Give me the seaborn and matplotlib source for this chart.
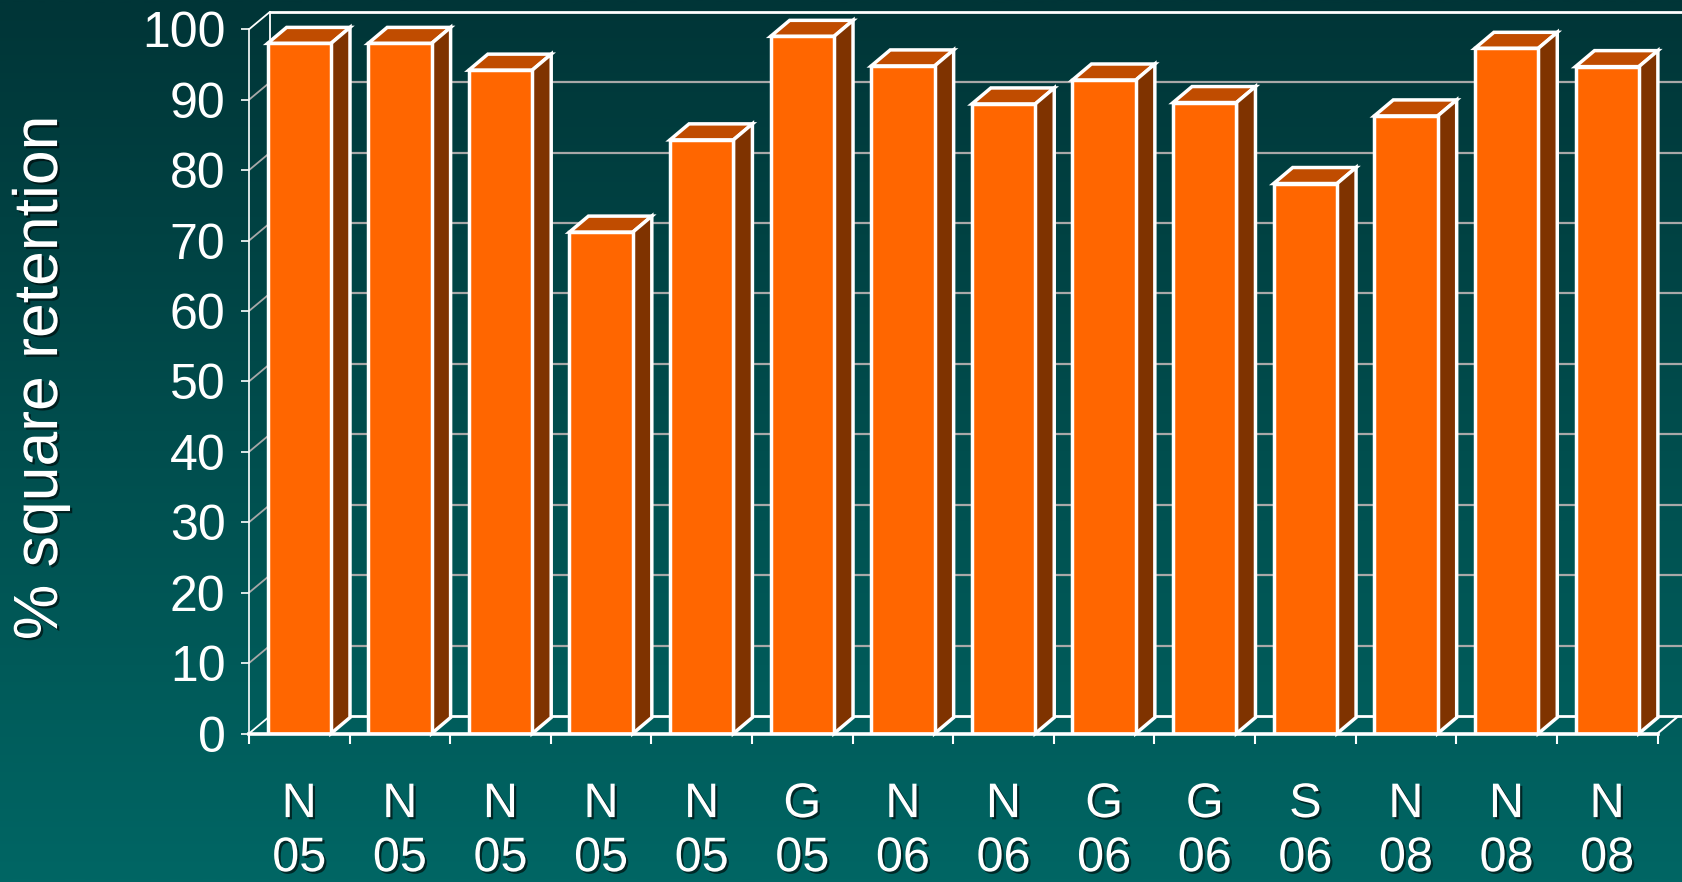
import numpy as np
import pandas as pd
import matplotlib
matplotlib.use("Agg")
import matplotlib.pyplot as plt
import matplotlib.patheffects as pe
from matplotlib.patches import Polygon
from matplotlib.lines import Line2D
from matplotlib.colors import LinearSegmentedColormap
import seaborn as sns

# ---- data -------------------------------------------------------------
sites = ["N", "N", "N", "N", "N", "G", "N", "N", "G", "G", "S", "N", "N", "N"]
years = ["05", "05", "05", "05", "05", "05", "06", "06", "06", "06", "06", "08", "08", "08"]
retention = [98.0, 98.0, 94.2, 71.2, 84.3, 99.0, 94.8, 89.4, 92.8, 89.6, 78.1, 87.7, 97.3, 94.7]
y_ticks = [0, 10, 20, 30, 40, 50, 60, 70, 80, 90, 100]
y_label = "% square retention"

# ---- style ------------------------------------------------------------
FRONT = "#FF6600"
TOP = "#C04C00"
SIDE = "#7F3300"
BG_TOP = "#003537"
BG_BOTTOM = "#006664"
GRID = "#A8A8A8"
EDGE = "white"

sns.set_style("white")
plt.rcParams["font.family"] = ["Liberation Sans", "DejaVu Sans"]

W, H, DPI = 1682, 882, 100
fig = plt.figure(figsize=(W / DPI, H / DPI), dpi=DPI)

# vertical gradient backdrop
bg = fig.add_axes([0, 0, 1, 1], zorder=-10)
cmap = LinearSegmentedColormap.from_list("backdrop", [BG_TOP, BG_BOTTOM])
bg.imshow(np.linspace(0, 1, 512).reshape(-1, 1), aspect="auto", cmap=cmap,
          extent=[0, 1, 0, 1], origin="upper")
bg.set_axis_off()

# front plane of the 3-D chart
left, right, top, bottom = 249, 1657.5, 29.3, 733.5
ax = fig.add_axes([left / W, 1 - bottom / H, (right - left) / W, (bottom - top) / H])
ax.patch.set_alpha(0)

df = pd.DataFrame({"bar": range(len(retention)), "retention": retention})
sns.barplot(data=df, x="bar", y="retention", color=FRONT, saturation=1,
            width=0.63, edgecolor=EDGE, linewidth=2.5, ax=ax, zorder=5)

ax.set_xlim(-0.5, len(retention) - 0.5)
ax.set_ylim(0, 100)

# depth offsets (pixels) converted to data units
p0 = ax.transData.transform((0, 0))
p1 = ax.transData.transform((1, 1))
sx, sy = p1[0] - p0[0], p1[1] - p0[1]
bdx, bdy = 19 / sx, 16 / sy      # bar depth
wdx, wdy = 21 / sx, 17.5 / sy    # wall depth

x_lo, x_hi = ax.get_xlim()

# side wall, back wall and floor
for v in y_ticks:
    c = EDGE if v in (0, 100) else GRID
    ax.add_line(Line2D([x_lo, x_lo + wdx], [v, v + wdy], color=c, lw=1.3,
                       zorder=1, clip_on=False))
    ax.add_line(Line2D([x_lo + wdx, x_hi + 3 * wdx], [v + wdy, v + wdy], color=c,
                       lw=2.0 if v in (0, 100) else 1.6, zorder=1, clip_on=False))
ax.add_line(Line2D([x_lo + wdx, x_lo + wdx], [wdy, 100 + wdy], color=EDGE, lw=1.3,
                   zorder=1, clip_on=False))
ax.add_line(Line2D([x_hi, x_hi + wdx], [0, wdy], color=EDGE, lw=1.5,
                   zorder=1, clip_on=False))

# top and side faces of each bar
for p in ax.patches:
    x0, w, h = p.get_x(), p.get_width(), p.get_height()
    top_face = [(x0, h), (x0 + w, h), (x0 + w + bdx, h + bdy), (x0 + bdx, h + bdy)]
    side_face = [(x0 + w, 0), (x0 + w + bdx, bdy), (x0 + w + bdx, h + bdy), (x0 + w, h)]
    for verts, fc in ((top_face, TOP), (side_face, SIDE)):
        ax.add_patch(Polygon(verts, closed=True, facecolor=fc, edgecolor=EDGE,
                             linewidth=2.5, joinstyle="miter", zorder=4, clip_on=False))

# axes lines and ticks
for s in ("top", "right"):
    ax.spines[s].set_visible(False)
ax.spines["left"].set_color(EDGE)
ax.spines["left"].set_linewidth(1.2)
ax.spines["bottom"].set_color(EDGE)
ax.spines["bottom"].set_linewidth(2.6)
ax.spines["bottom"].set_zorder(6)

ax.set_yticks(y_ticks)
ax.tick_params(axis="y", which="major", direction="out", length=6, width=1.2,
               color=EDGE, labelcolor=EDGE, labelsize=36, pad=11, left=True)

ax.set_xticks(range(len(retention)))
ax.set_xticklabels([f"{s}\n{y}" for s, y in zip(sites, years)])
ax.set_xticks(np.arange(x_lo, x_hi + 0.01, 1.0), minor=True)
ax.tick_params(axis="x", which="major", length=0, labelcolor=EDGE, labelsize=35, pad=35)
ax.tick_params(axis="x", which="minor", direction="out", length=7, width=1.5,
               color=EDGE, bottom=True)
shadow = [pe.withSimplePatchShadow(offset=(1.6, -1.6), shadow_rgbFace="black", alpha=0.6)]
for t in ax.get_xticklabels():
    t.set_linespacing(1.26)
    t.set_path_effects(shadow)

ax.set_xlabel("")
ax.set_ylabel("")
ax.grid(False)
ax.text(-0.1480, 0.505, y_label, transform=ax.transAxes, rotation=90,
        ha="center", va="center", fontsize=45, color=EDGE, path_effects=shadow)

fig.savefig("out.png", dpi=DPI)
